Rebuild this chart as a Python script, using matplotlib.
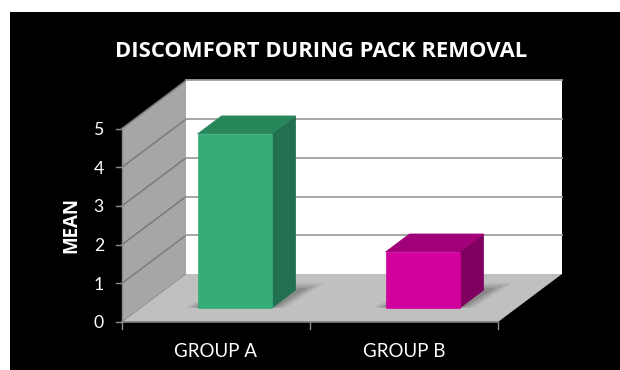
import matplotlib
matplotlib.use('Agg')
import matplotlib.pyplot as plt
from matplotlib.patches import Polygon, Rectangle

# data
groups = ['GROUP A', 'GROUP B']
means = [4.5, 1.45]
yticks = [0, 1, 2, 3, 4, 5]
title = 'DISCOMFORT DURING PACK REMOVAL'
ylabel = 'MEAN'

front_cols = ['#36ad76', '#d2009d']
top_cols = ['#28865b', '#a1007a']
side_cols = ['#217150', '#80005f']

W, H = 620, 370
# oblique depth offset (data units for a full depth of 1)
DX = 64 / 188.0
DY = 48 / 38.7
BAR_W = 0.394
Z0, Z1 = 0.29, 0.665


def proj(x, y, z):
    return (x + z * DX, y + z * DY)


def quad(a, b, c, d):
    return [proj(*a), proj(*b), proj(*c), proj(*d)]


def fpos(px, py):
    return px / W, 1 - py / H


fig = plt.figure(figsize=(W / 100, H / 100), dpi=100)
fig.patch.set_facecolor('white')
fig.patches.append(Rectangle((10 / W, 0), 1, 1 - 12 / H, transform=fig.transFigure,
                             facecolor='black', edgecolor='none', zorder=-10))

ax = fig.add_axes([0, 0, 1, 1])
ax.set_xlim(-122 / 188.0, (W - 122) / 188.0)
ax.set_ylim(-48 / 38.7, 322 / 38.7)
ax.axis('off')
ax.patch.set_alpha(0)

ncat = len(groups)
ymax = yticks[-1]

# walls and floor
ax.add_patch(Polygon(quad((0, 0, 0), (0, 0, 1), (0, ymax, 1), (0, ymax, 0)),
                     facecolor='#a6a6a6', edgecolor='none', zorder=1))
ax.add_patch(Polygon(quad((0, 0, 1), (ncat, 0, 1), (ncat, ymax, 1), (0, ymax, 1)),
                     facecolor='white', edgecolor='none', zorder=1))
ax.add_patch(Polygon(quad((0, 0, 0), (ncat, 0, 0), (ncat, 0, 1), (0, 0, 1)),
                     facecolor='#c0c0c0', edgecolor='none', zorder=2))

# gridlines
for v in yticks[1:]:
    p0, p1, p2 = proj(0, v, 0), proj(0, v, 1), proj(ncat, v, 1)
    ax.plot([p0[0], p1[0]], [p0[1], p1[1]], color='#7a7a7a', lw=1.1, zorder=1.5)
    ax.plot([p1[0], p2[0]], [p1[1], p2[1]], color='#a0a0a0', lw=1.3, zorder=1.5)

# axis lines and ticks
ax.plot([0, 0], [0, ymax], color='#8a8a8a', lw=1, zorder=3)
ax.plot([0, ncat], [0, 0], color='#808080', lw=1.2, zorder=3)
for v in yticks:
    ax.plot([-6 / 188.0, 0], [v, v], color='#8a8a8a', lw=1, zorder=3)
    ax.text(-18 / 188.0, v, str(v), color='white', fontsize=12.7, family='Lato',
            ha='right', va='center_baseline', zorder=4)
for i in range(ncat + 1):
    ax.plot([i, i], [0, -7 / 38.7], color='#8a8a8a', lw=1, zorder=3)

# bars
for i, v in enumerate(means):
    x0 = i + 0.5 - BAR_W / 2
    x1 = i + 0.5 + BAR_W / 2
    # soft shadow on the floor
    for k, a in [(0.07, 0.10), (0.045, 0.14), (0.02, 0.18)]:
        ax.add_patch(Polygon(quad((x0 - k, 0, Z0 + 0.01), (x1 + k, 0, Z0 + 0.01),
                                  (x1 + k + 0.03, 0, Z1 + k * 2), (x0 + 0.03, 0, Z1 + k * 2)),
                             facecolor='#303030', alpha=a, edgecolor='none', zorder=2.5))
    ax.add_patch(Polygon(quad((x1, 0, Z0), (x1, 0, Z1), (x1, v, Z1), (x1, v, Z0)),
                         facecolor=side_cols[i], edgecolor=side_cols[i], lw=0.5, zorder=5))
    ax.add_patch(Polygon(quad((x0, v, Z0), (x1, v, Z0), (x1, v, Z1), (x0, v, Z1)),
                         facecolor=top_cols[i], edgecolor=top_cols[i], lw=0.5, zorder=5))
    ax.add_patch(Polygon(quad((x0, 0, Z0), (x1, 0, Z0), (x1, v, Z0), (x0, v, Z0)),
                         facecolor=front_cols[i], edgecolor=front_cols[i], lw=0.5, zorder=6))
    ax.text(i + 0.5, -35 / 38.7, groups[i], color='white', fontsize=13.5, family='Lato',
            ha='center', va='baseline')

fig.text(*fpos(321, 57), title, color='white', fontsize=15.8, family='Open Sans',
         fontweight='bold', ha='center', va='baseline')
fig.text(*fpos(71, 225), ylabel, color='white', fontsize=13.5, family='Open Sans',
         fontweight='bold', rotation=90, ha='center', va='center')

fig.savefig('out.png', dpi=100, facecolor='white')
